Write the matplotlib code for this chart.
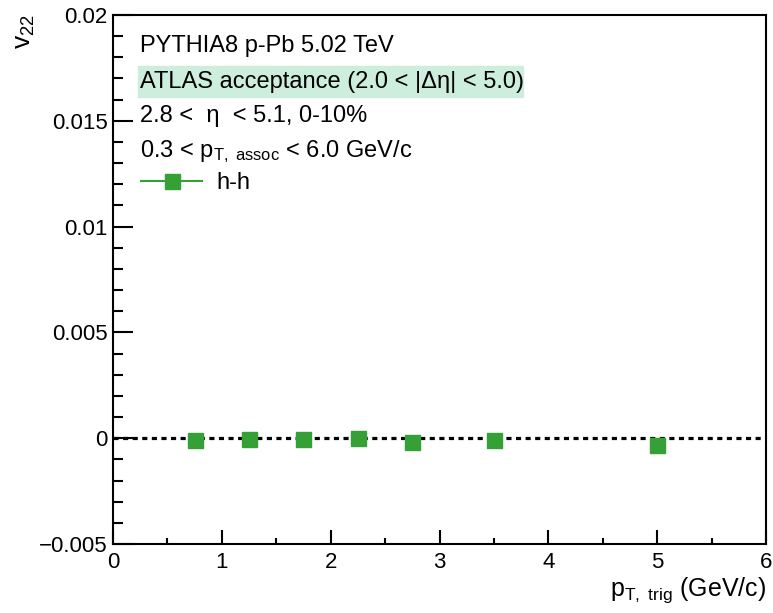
import matplotlib
matplotlib.use('Agg')
from matplotlib import pyplot as plt
from matplotlib.lines import Line2D
from matplotlib.patches import Rectangle
from matplotlib.ticker import MultipleLocator

plt.rcParams['font.family'] = ['Liberation Sans', 'DejaVu Sans']
plt.rcParams['mathtext.fontset'] = 'custom'
plt.rcParams['mathtext.rm'] = 'Liberation Sans'
plt.rcParams['mathtext.it'] = 'Liberation Sans'

# v22 vs trigger pT, h-h correlations
pt_trig = [0.75, 1.25, 1.75, 2.25, 2.75, 3.5, 5.0]
v22 = [-0.00007, -0.00006, -0.00006, 0.00000, -0.00017, -0.00007, -0.00032]

green = '#35a035'
W, H = 773, 613

fig = plt.figure(figsize=(W / 100, H / 100), dpi=100)
ax = fig.add_axes([113 / W, 1 - 544 / H, (766 - 113) / W, (544 - 15) / H])

ax.axhline(0, color='black', lw=2.3, ls=(0, (1.6, 1.4)), zorder=1)
ax.plot(pt_trig, v22, ls='none', marker='s', ms=10.8, color=green,
        mec=green, zorder=3)

ax.set_xlim(0, 6)
ax.set_ylim(-0.005, 0.02)
ax.xaxis.set_major_locator(MultipleLocator(1))
ax.xaxis.set_minor_locator(MultipleLocator(0.5))
ax.yaxis.set_major_locator(MultipleLocator(0.005))
ax.yaxis.set_minor_locator(MultipleLocator(0.001))
ax.yaxis.set_major_formatter(plt.FuncFormatter(
    lambda v, p: '0' if abs(v) < 1e-12 else ('\u2212' if v < 0 else '') + f'{abs(v):g}'))

for s in ax.spines.values():
    s.set_linewidth(1.5)
ax.tick_params(axis='both', which='both', direction='in', width=1.5,
               labelsize=16)
ax.tick_params(axis='x', which='major', length=10, pad=6)
ax.tick_params(axis='x', which='minor', length=4.5)
ax.tick_params(axis='y', which='major', length=14.5, pad=4)
ax.tick_params(axis='y', which='minor', length=7.2)

# Axis titles at the ends of the axes
fig.text(766 / W, 1 - 596 / H, r'$\mathregular{p_{T,\ trig}}$ (GeV/c)',
         ha='right', va='baseline', fontsize=18)
fig.text(25 / W, 1 - 14 / H, r'$\mathregular{v_{22}}$', rotation=90,
         ha='center', va='top', fontsize=19)

# Highlighted acceptance line
fig.patches.append(Rectangle((138 / W, 1 - 97 / H), (523 - 138) / W, 31 / H,
                             transform=fig.transFigure, color='#cdeedc',
                             zorder=0))

x0 = 140 / W
fig.text(x0, 1 - 52 / H, 'PYTHIA8 p-Pb 5.02 TeV', fontsize=17)
fig.text(x0, 1 - 88 / H, 'ATLAS acceptance (2.0 < |\u0394\u03b7| < 5.0)',
         fontsize=17)
fig.text(x0, 1 - 122 / H, '2.8 <  \u03b7  < 5.1, 0-10%', fontsize=17)
fig.text(x0, 1 - 157 / H,
         r'0.3 < $\mathregular{p_{T,\ assoc}}$ < 6.0 GeV/c', fontsize=17)

handle = Line2D([], [], color=green, lw=1.5, marker='s', ms=10.8, mec=green)
ax.legend([handle], ['h-h'], loc='center left', frameon=False, fontsize=17,
          bbox_to_anchor=(141 / W, 1 - 183 / H),
          bbox_transform=fig.transFigure, borderpad=0, borderaxespad=0,
          handlelength=2.6, handletextpad=0.6)

fig.savefig('out.png', dpi=100)
